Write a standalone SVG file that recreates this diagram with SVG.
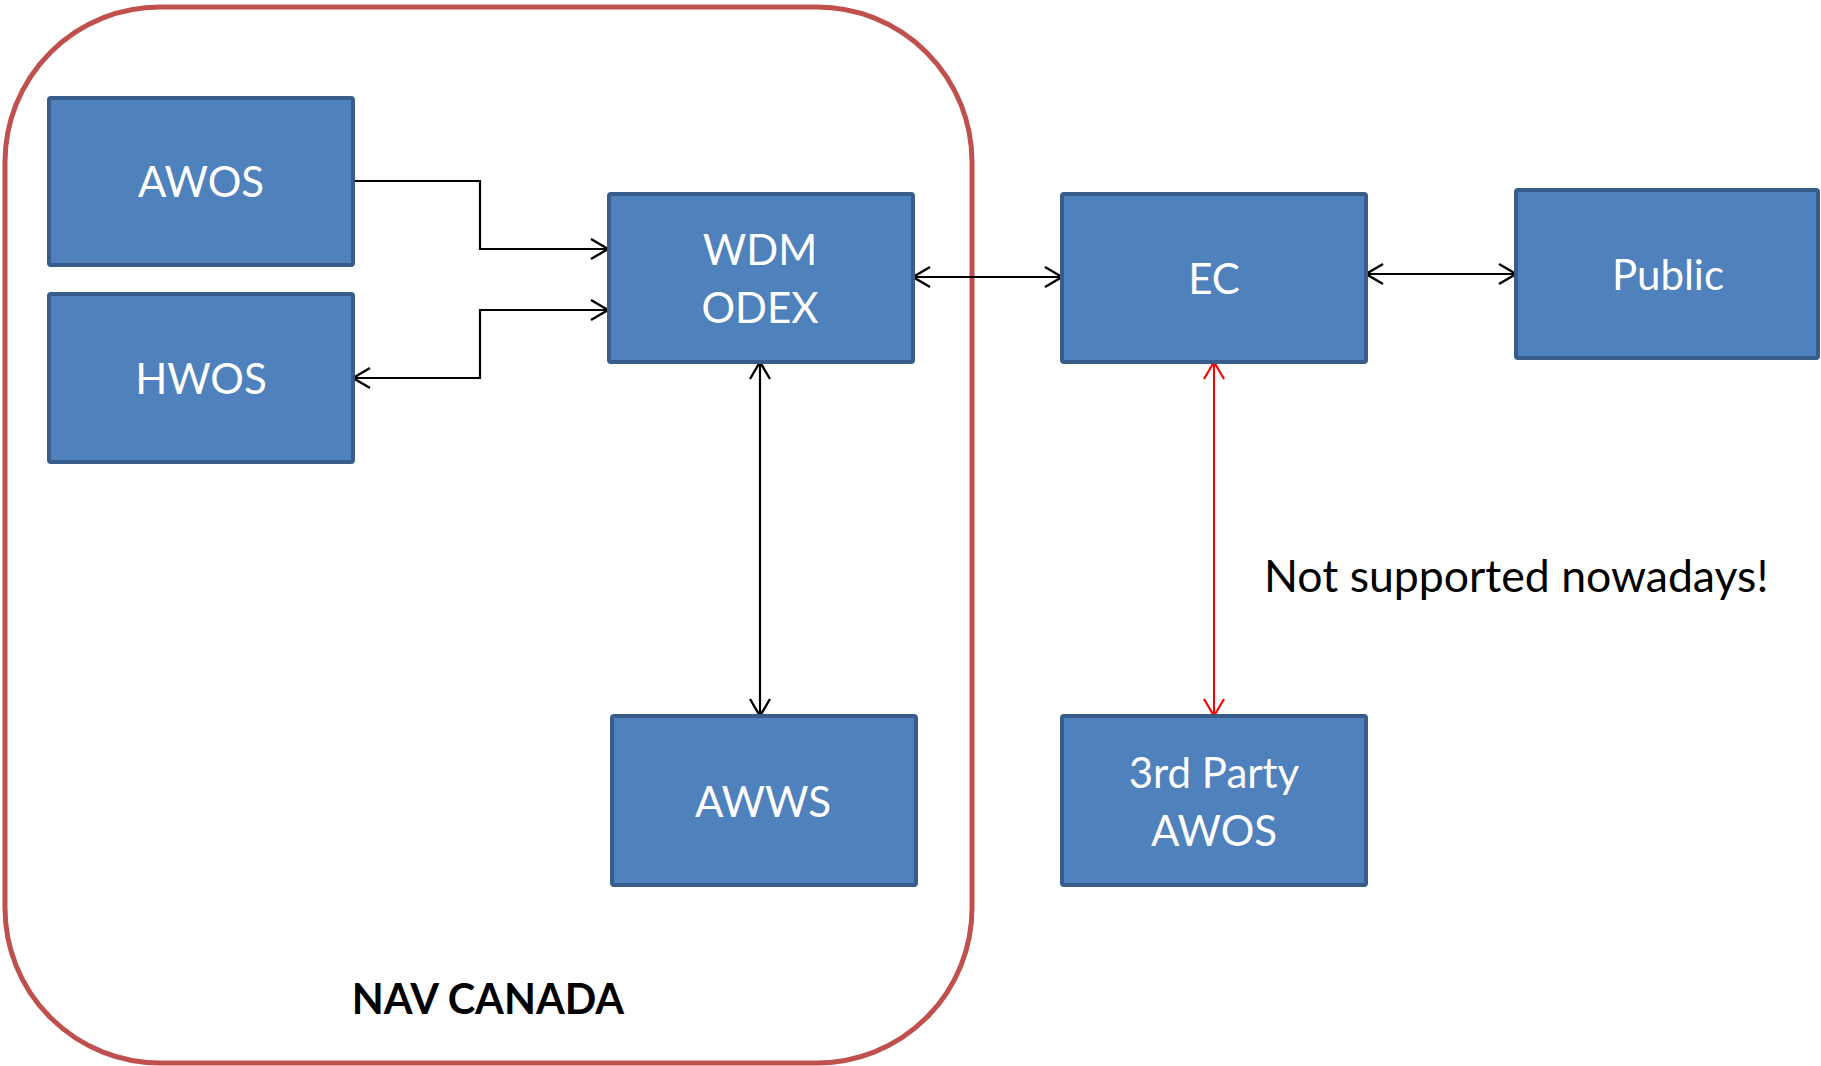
<svg xmlns="http://www.w3.org/2000/svg" width="1821" height="1066" viewBox="0 0 1821 1066">
<style>
.box{fill:#4F81BD;stroke:#385D8A;stroke-width:4}
.lbl{font-family:Lato,"Open Sans","Liberation Sans",sans-serif;font-size:42px;fill:#FFFFFF;text-anchor:middle}
.conn{fill:none;stroke:#000000;stroke-width:2.2}
.red{fill:none;stroke:#FF0000;stroke-width:2}
.note{font-family:Lato,"Open Sans","Liberation Sans",sans-serif;font-size:44.6px;fill:#000000}
.title{font-family:Lato,"Open Sans","Liberation Sans",sans-serif;font-size:41.5px;font-weight:bold;fill:#000000;text-anchor:middle}
</style>
<defs>
<marker id="arr" viewBox="-20 -12 22 24" refX="0" refY="0" markerWidth="22" markerHeight="24" markerUnits="userSpaceOnUse" orient="auto-start-reverse">
<path d="M-17,-10 L0,0 L-17,10" fill="none" stroke="#000000" stroke-width="2.4"/>
</marker>
<marker id="arrRed" viewBox="-20 -12 22 24" refX="0" refY="0" markerWidth="22" markerHeight="24" markerUnits="userSpaceOnUse" orient="auto-start-reverse">
<path d="M-17,-10 L0,0 L-17,10" fill="none" stroke="#FF0000" stroke-width="2.2"/>
</marker>
</defs>
<rect width="1821" height="1066" fill="#FFFFFF"/>
<g id="navcanada">
<rect x="5" y="7" width="967" height="1056" rx="155" ry="155" fill="none" stroke="#C0504D" stroke-width="5"/>
<text class="title" x="488" y="1014">NAV CANADA</text>
</g>
<g id="connectors">
<polyline class="conn" points="353,181 480,181 480,249 608,249" marker-end="url(#arr)"/>
<polyline class="conn" points="353,378 480,378 480,310 608,310" marker-start="url(#arr)" marker-end="url(#arr)"/>
<line class="conn" x1="913" y1="277" x2="1062" y2="277" marker-start="url(#arr)" marker-end="url(#arr)"/>
<line class="conn" x1="1366" y1="274" x2="1516" y2="274" marker-start="url(#arr)" marker-end="url(#arr)"/>
<line class="conn" x1="760" y1="362" x2="760" y2="716" marker-start="url(#arr)" marker-end="url(#arr)"/>
<line class="red" x1="1214" y1="362" x2="1214" y2="716" marker-start="url(#arrRed)" marker-end="url(#arrRed)"/>
</g>
<g id="awos">
<rect class="box" x="49" y="98" width="304" height="167" rx="2"/>
<text class="lbl" x="201" y="197">AWOS</text>
</g>
<g id="hwos">
<rect class="box" x="49" y="294" width="304" height="168" rx="2"/>
<text class="lbl" x="201" y="394">HWOS</text>
</g>
<g id="wdm">
<rect class="box" x="609" y="194" width="304" height="168" rx="2"/>
<text class="lbl" x="760" y="265">WDM</text>
<text class="lbl" x="760" y="323">ODEX</text>
</g>
<g id="ec">
<rect class="box" x="1062" y="194" width="304" height="168" rx="2"/>
<text class="lbl" x="1214" y="294">EC</text>
</g>
<g id="public">
<rect class="box" x="1516" y="190" width="302" height="168" rx="2"/>
<text class="lbl" x="1668" y="290">Public</text>
</g>
<g id="awws">
<rect class="box" x="612" y="716" width="304" height="169" rx="2"/>
<text class="lbl" x="763" y="817">AWWS</text>
</g>
<g id="thirdparty">
<rect class="box" x="1062" y="716" width="304" height="169" rx="2"/>
<text class="lbl" x="1214" y="788">3rd Party</text>
<text class="lbl" x="1214" y="846">AWOS</text>
</g>
<g id="note">
<text class="note" x="1264" y="592">Not supported nowadays!</text>
</g>
</svg>
